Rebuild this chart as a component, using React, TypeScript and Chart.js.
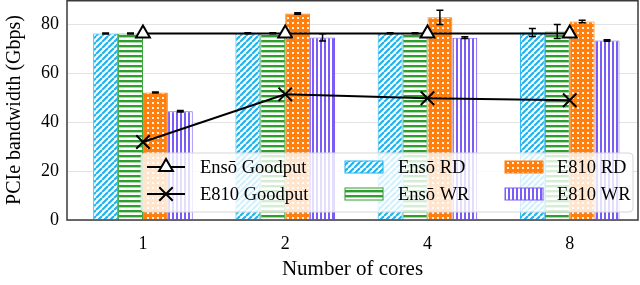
import React, { useEffect, useRef } from 'react';
import { Chart, registerables } from 'chart.js';
Chart.register(...registerables);

const categories = ['1', '2', '4', '8'];
const ensoRd = [76.3, 76.4, 76.4, 76.7];
const ensoRdErr = [0.2, 0.2, 0.2, 1.6];
const ensoWr = [76.3, 76.4, 76.4, 77.1];
const ensoWrErr = [0.2, 0.2, 0.2, 2.9];
const e810Rd = [52.2, 84.5, 82.9, 81.2];
const e810RdErr = [0.2, 0.3, 2.9, 0.5];
const e810Wr = [44.5, 74.7, 74.6, 73.4];
const e810WrErr = [0.3, 1.5, 0.4, 0.3];
const ensoGoodput = [76.3, 76.3, 76.3, 76.3];
const e810Goodput = [31.9, 51.4, 49.8, 49.0];
const yTicks = [0, 20, 40, 60, 80];

const FONT = "'Liberation Serif', 'Times New Roman', serif";
const BLUE = '#1fb3f0';
const GREEN = '#2f9e2f';
const ORANGE = '#ff7f0e';
const PURPLE = '#7a5cf6';

function makePattern(kind: string): CanvasPattern | string {
  const c = document.createElement('canvas');
  const ctx = c.getContext('2d')!;
  if (kind === 'diag') {
    const s = 6;
    c.width = s; c.height = s;
    ctx.fillStyle = '#fff';
    ctx.fillRect(0, 0, s, s);
    ctx.strokeStyle = BLUE;
    ctx.lineWidth = 2.2;
    for (const o of [-s, 0, s]) {
      ctx.beginPath();
      ctx.moveTo(o, s);
      ctx.lineTo(o + s, 0);
      ctx.stroke();
    }
  } else if (kind === 'horiz') {
    c.width = 5; c.height = 5;
    ctx.fillStyle = '#fff';
    ctx.fillRect(0, 0, 5, 5);
    ctx.fillStyle = GREEN;
    ctx.fillRect(0, 0, 5, 2.4);
  } else if (kind === 'dots') {
    c.width = 5; c.height = 5;
    ctx.fillStyle = ORANGE;
    ctx.fillRect(0, 0, 5, 5);
    ctx.fillStyle = 'rgba(255,255,255,0.9)';
    ctx.fillRect(2, 2, 2, 2);
  } else {
    c.width = 4; c.height = 4;
    ctx.fillStyle = '#fff';
    ctx.fillRect(0, 0, 4, 4);
    ctx.fillStyle = PURPLE;
    ctx.fillRect(0, 0, 2, 4);
  }
  const p = ctx.createPattern(c, 'repeat');
  return p || '#fff';
}

const toXY = (arr: number[]) => arr.map((v, i) => ({ x: i, y: v }));

export default function App() {
  const ref = useRef<HTMLCanvasElement>(null);
  useEffect(() => {
    document.body.style.margin = '0';
    const canvas = ref.current!;
    const pats = {
      diag: makePattern('diag'),
      horiz: makePattern('horiz'),
      dots: makePattern('dots'),
      vert: makePattern('vert'),
    };
    const errs = [ensoRdErr, ensoWrErr, e810RdErr, e810WrErr];

    const errorBars = {
      id: 'errorBars',
      afterDatasetsDraw(chart: any) {
        const ctx = chart.ctx;
        const ys = chart.scales.y;
        ctx.save();
        ctx.strokeStyle = '#000';
        ctx.lineWidth = 1.5;
        for (let d = 0; d < 4; d++) {
          const meta = chart.getDatasetMeta(d);
          const vals = chart.data.datasets[d].data;
          meta.data.forEach((el: any, j: number) => {
            const v = vals[j].y;
            const e = errs[d][j];
            const y1 = ys.getPixelForValue(v + e);
            const y2 = ys.getPixelForValue(v - e);
            const x = el.x;
            ctx.beginPath();
            ctx.moveTo(x, y1); ctx.lineTo(x, y2);
            ctx.moveTo(x - 3.5, y1); ctx.lineTo(x + 3.5, y1);
            ctx.moveTo(x - 3.5, y2); ctx.lineTo(x + 3.5, y2);
            ctx.stroke();
          });
        }
        ctx.restore();
      },
    };

    const frameAndLegend = {
      id: 'frameAndLegend',
      afterDraw(chart: any) {
        const ctx = chart.ctx;
        const a = chart.chartArea;
        ctx.save();
        ctx.strokeStyle = '#3a3a3a';
        ctx.lineWidth = 1.5;
        ctx.strokeRect(a.left, a.top + 0.75, a.right - a.left, a.bottom - a.top - 0.75);

        const bx = 141, by = 153, bw = 492, bh = 59;
        ctx.beginPath();
        ctx.roundRect(bx, by, bw, bh, 4);
        ctx.fillStyle = 'rgba(255,255,255,0.8)';
        ctx.fill();
        ctx.strokeStyle = '#d6d6d6';
        ctx.lineWidth = 1;
        ctx.stroke();

        const ds = chart.data.datasets;
        const rows = [167, 194];
        ctx.font = `18.5px ${FONT}`;
        ctx.textBaseline = 'middle';
        ctx.fillStyle = '#000';
        const lineItems = [ds[4], ds[5]];
        lineItems.forEach((d: any, r: number) => {
          const y = rows[r];
          ctx.strokeStyle = '#000';
          ctx.lineWidth = 2;
          ctx.beginPath();
          ctx.moveTo(147, y); ctx.lineTo(185, y);
          ctx.stroke();
          const cx = 166;
          if (r === 0) {
            const rad = 8;
            const edge = rad * Math.sqrt(3);
            const h = edge * Math.sqrt(3) / 2;
            ctx.beginPath();
            ctx.moveTo(cx, y - 2 * h / 3);
            ctx.lineTo(cx + edge / 2, y + h / 3);
            ctx.lineTo(cx - edge / 2, y + h / 3);
            ctx.closePath();
            ctx.fillStyle = '#fff';
            ctx.fill();
            ctx.stroke();
          } else {
            const k = 9.5 * Math.SQRT1_2;
            ctx.beginPath();
            ctx.moveTo(cx - k, y - k); ctx.lineTo(cx + k, y + k);
            ctx.moveTo(cx + k, y - k); ctx.lineTo(cx - k, y + k);
            ctx.stroke();
          }
          ctx.fillStyle = '#000';
          ctx.fillText(d.label, 200, y + 1);
        });
        const barCols = [
          { x: 345, tx: 398, items: [ds[0], ds[1]] },
          { x: 505, tx: 557, items: [ds[2], ds[3]] },
        ];
        barCols.forEach((col) => {
          col.items.forEach((d: any, r: number) => {
            const y = rows[r];
            ctx.fillStyle = d.backgroundColor;
            ctx.fillRect(col.x, y - 6, 38, 12);
            ctx.strokeStyle = d.borderColor;
            ctx.lineWidth = 1;
            ctx.strokeRect(col.x, y - 6, 38, 12);
            ctx.fillStyle = '#000';
            ctx.fillText(d.label, col.tx, y + 1);
          });
        });
        ctx.restore();
      },
    };

    const barCommon = {
      type: 'bar' as const,
      borderWidth: 1,
      categoryPercentage: 0.7,
      barPercentage: 1.0,
      order: 1,
    };

    const chart = new Chart(canvas, {
      type: 'bar',
      data: {
        datasets: [
          { ...barCommon, label: 'Ensō RD', data: toXY(ensoRd), backgroundColor: pats.diag as any, borderColor: BLUE },
          { ...barCommon, label: 'Ensō WR', data: toXY(ensoWr), backgroundColor: pats.horiz as any, borderColor: GREEN },
          { ...barCommon, label: 'E810 RD', data: toXY(e810Rd), backgroundColor: pats.dots as any, borderColor: ORANGE },
          { ...barCommon, label: 'E810 WR', data: toXY(e810Wr), backgroundColor: pats.vert as any, borderColor: PURPLE },
          {
            type: 'line', label: 'Ensō Goodput', data: toXY(ensoGoodput), borderColor: '#000', borderWidth: 2,
            pointStyle: 'triangle', pointRadius: 8, pointBorderWidth: 2, pointBackgroundColor: '#fff',
            pointBorderColor: '#000', order: 0,
          } as any,
          {
            type: 'line', label: 'E810 Goodput', data: toXY(e810Goodput), borderColor: '#000', borderWidth: 2,
            pointStyle: 'crossRot', pointRadius: 9.5, pointBorderWidth: 2, pointBorderColor: '#000', order: 0,
          } as any,
        ],
      },
      options: {
        responsive: false,
        animation: false,
        layout: { autoPadding: false, padding: { top: 0, right: 2, left: 0, bottom: 0 } },
        plugins: { legend: { display: false }, tooltip: { enabled: false } },
        scales: {
          x: {
            type: 'linear',
            offset: false,
            min: -0.534,
            max: 3.48,
            grid: { display: false },
            border: { display: false },
            afterBuildTicks: (s: any) => { s.ticks = categories.map((_, i) => ({ value: i })); },
            afterFit: (s: any) => { s.height = 65; s.paddingLeft = 0; s.paddingRight = 0; },
            ticks: {
              callback: (v: any) => categories[v as number],
              font: { family: FONT, size: 18 },
              color: '#000',
              padding: 5,
              maxRotation: 0,
            },
            title: {
              display: true,
              text: 'Number of cores',
              font: { family: FONT, size: 21 },
              color: '#000',
              padding: { top: 0, bottom: 3 },
            },
          },
          y: {
            min: 0,
            max: 90,
            afterBuildTicks: (s: any) => { s.ticks = yTicks.map((v) => ({ value: v })); },
            afterFit: (s: any) => { s.width = 67; s.paddingTop = 0; s.paddingBottom = 0; },
            grid: { color: '#e3e3e3', lineWidth: 1, drawTicks: false },
            border: { display: false },
            ticks: {
              font: { family: FONT, size: 18 },
              color: '#000',
              padding: 8,
            },
            title: {
              display: true,
              text: 'PCIe bandwidth (Gbps)',
              font: { family: FONT, size: 20 },
              color: '#000',
              padding: { top: 3, bottom: 0 },
            },
          },
        },
      },
      plugins: [errorBars, frameAndLegend],
    });
    return () => chart.destroy();
  }, []);
  return (
    <div style={{ width: 640, height: 285 }}>
      <canvas ref={ref} width={640} height={285} style={{ display: 'block' }} />
    </div>
  );
}
